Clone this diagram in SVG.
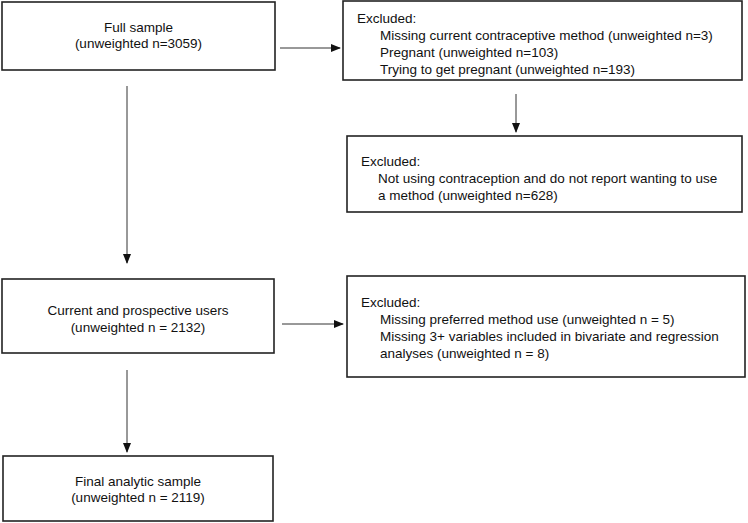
<svg xmlns="http://www.w3.org/2000/svg" width="748" height="523" viewBox="0 0 748 523">
<style>
.box{fill:#fff;stroke:#222;stroke-width:1.6}
.t{font-family:"Liberation Sans",Arial,sans-serif;font-size:13.5px;fill:#111}
.c{text-anchor:middle}
.conn{stroke:#333;stroke-width:1;fill:none}
</style>
<defs>
<marker id="ah" markerWidth="10" markerHeight="8" refX="9" refY="4" orient="auto" markerUnits="userSpaceOnUse">
<path d="M0,0 L10,4 L0,8 Z" fill="#111"/>
</marker>
</defs>
<rect width="748" height="523" fill="#fff"/>
<g id="connectors">
<line class="conn" x1="280" y1="48" x2="340" y2="48" marker-end="url(#ah)"/>
<line class="conn" x1="516" y1="94" x2="516" y2="132" marker-end="url(#ah)"/>
<line class="conn" x1="127" y1="86" x2="127" y2="263" marker-end="url(#ah)"/>
<line class="conn" x1="282" y1="324" x2="343" y2="324" marker-end="url(#ah)"/>
<line class="conn" x1="127" y1="370" x2="127" y2="452" marker-end="url(#ah)"/>
</g>
<g id="full-sample">
<rect class="box" x="2" y="2" width="273" height="68"/>
<text class="t c" x="138.5" y="32">Full sample</text>
<text class="t c" x="138.5" y="48">(unweighted n=3059)</text>
</g>
<g id="excluded-1">
<rect class="box" x="343" y="1" width="399" height="79"/>
<text class="t" x="357" y="23">Excluded:</text>
<text class="t" x="380" y="40">Missing current contraceptive method (unweighted n=3)</text>
<text class="t" x="380" y="57">Pregnant (unweighted n=103)</text>
<text class="t" x="380" y="74">Trying to get pregnant (unweighted n=193)</text>
</g>
<g id="excluded-2">
<rect class="box" x="347" y="136" width="395" height="76"/>
<text class="t" x="361" y="166">Excluded:</text>
<text class="t" x="378" y="183">Not using contraception and do not report wanting to use</text>
<text class="t" x="378" y="200">a method (unweighted n=628)</text>
</g>
<g id="current-users">
<rect class="box" x="2" y="279" width="272" height="74"/>
<text class="t c" x="138" y="315">Current and prospective users</text>
<text class="t c" x="138" y="332">(unweighted n = 2132)</text>
</g>
<g id="excluded-3">
<rect class="box" x="347" y="276" width="398" height="101"/>
<text class="t" x="361" y="307">Excluded:</text>
<text class="t" x="380" y="324">Missing preferred method use (unweighted n = 5)</text>
<text class="t" x="380" y="341">Missing 3+ variables included in bivariate and regression</text>
<text class="t" x="380" y="358">analyses (unweighted n = 8)</text>
</g>
<g id="final-sample">
<rect class="box" x="3" y="456" width="270" height="65"/>
<text class="t c" x="138" y="486">Final analytic sample</text>
<text class="t c" x="138" y="502">(unweighted n = 2119)</text>
</g>
</svg>
